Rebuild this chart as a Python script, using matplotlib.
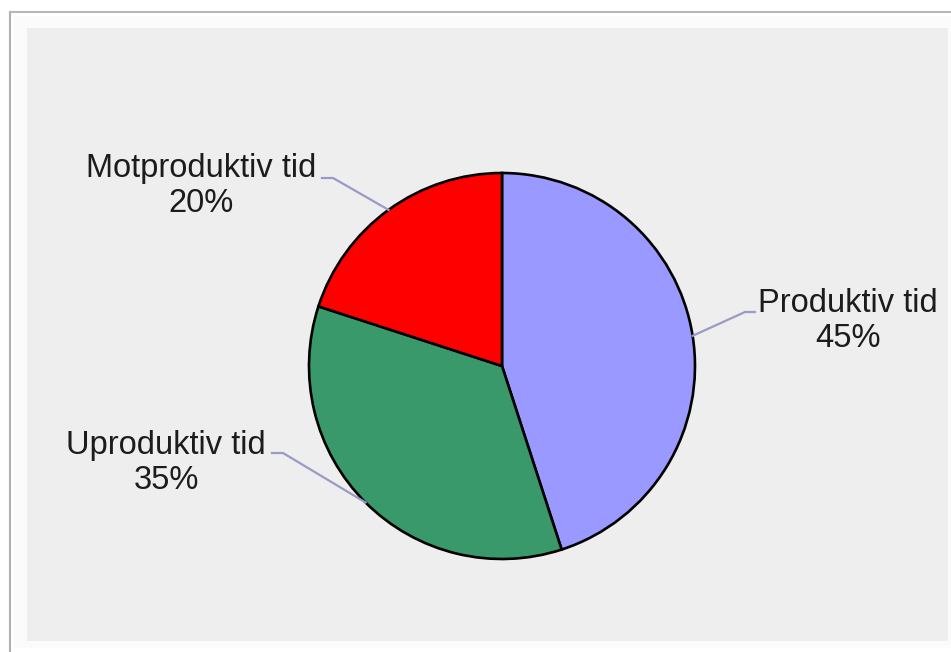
import numpy as np
import matplotlib
matplotlib.use("Agg")
import matplotlib.pyplot as plt
from matplotlib.patches import Rectangle
from matplotlib.lines import Line2D

# Share of working time
categories = ["Produktiv tid", "Uproduktiv tid", "Motproduktiv tid"]
shares = [45, 35, 20]
colors = ["#9999ff", "#3a996a", "#ff0000"]

W, H = 951, 652
fig = plt.figure(figsize=(W / 100, H / 100), dpi=100, facecolor="white")
plt.rcParams["font.family"] = ["Liberation Sans", "DejaVu Sans"]

# Page frame lines and grey chart area (pixel coordinates, y up)
ax = fig.add_axes([0, 0, 1, 1])
ax.set_xlim(0, W)
ax.set_ylim(0, H)
ax.set_aspect("equal")
ax.axis("off")

ax.add_patch(Rectangle((14, 4), W - 14, H - 4 - 16, facecolor="#fbfbfb",
                       edgecolor="none", zorder=0))
ax.add_patch(Rectangle((27, H - 641), 948 - 27, 641 - 28,
                       facecolor="#eeeeee", edgecolor="none", zorder=1))
ax.add_line(Line2D([10, 10], [0, H - 12], color="#b0b0b0", lw=1.5, zorder=2))
ax.add_line(Line2D([10, W], [H - 12, H - 12], color="#b8b8b8", lw=1.5, zorder=2))

# Pie
cx, cy, r = 502, H - 366, 193
wedges, _ = ax.pie(shares, colors=colors, startangle=90, counterclock=False,
                   center=(cx, cy), radius=r, frame=True,
                   wedgeprops=dict(edgecolor="black", linewidth=1.9))
for w in wedges:
    w.set_zorder(3)
ax.set_xlim(0, W)
ax.set_ylim(0, H)
ax.axis("off")

# Label placement: (text centre, elbow point, text-side end of leader)
label_layout = [
    ((848, H - 321), (745, H - 312), (755, H - 312)),
    ((166, H - 463), (283, H - 453), (272, H - 453)),
    ((201, H - 186), (333, H - 178), (322, H - 178)),
]

for w, name, val, (tpos, elbow, tend) in zip(wedges, categories, shares, label_layout):
    mid = np.deg2rad((w.theta1 + w.theta2) / 2)
    ex, ey = cx + r * np.cos(mid), cy + r * np.sin(mid)
    ax.add_line(Line2D([ex, elbow[0], tend[0]], [ey, elbow[1], tend[1]],
                       color="#9a9ac8", lw=1.6, zorder=4))
    ax.text(tpos[0], tpos[1], f"{name}\n{val}%", ha="center", va="center",
            fontsize=23.5, color="#1c1c1c", linespacing=1.2, zorder=5)

fig.savefig("out.png", dpi=100, facecolor="white")
